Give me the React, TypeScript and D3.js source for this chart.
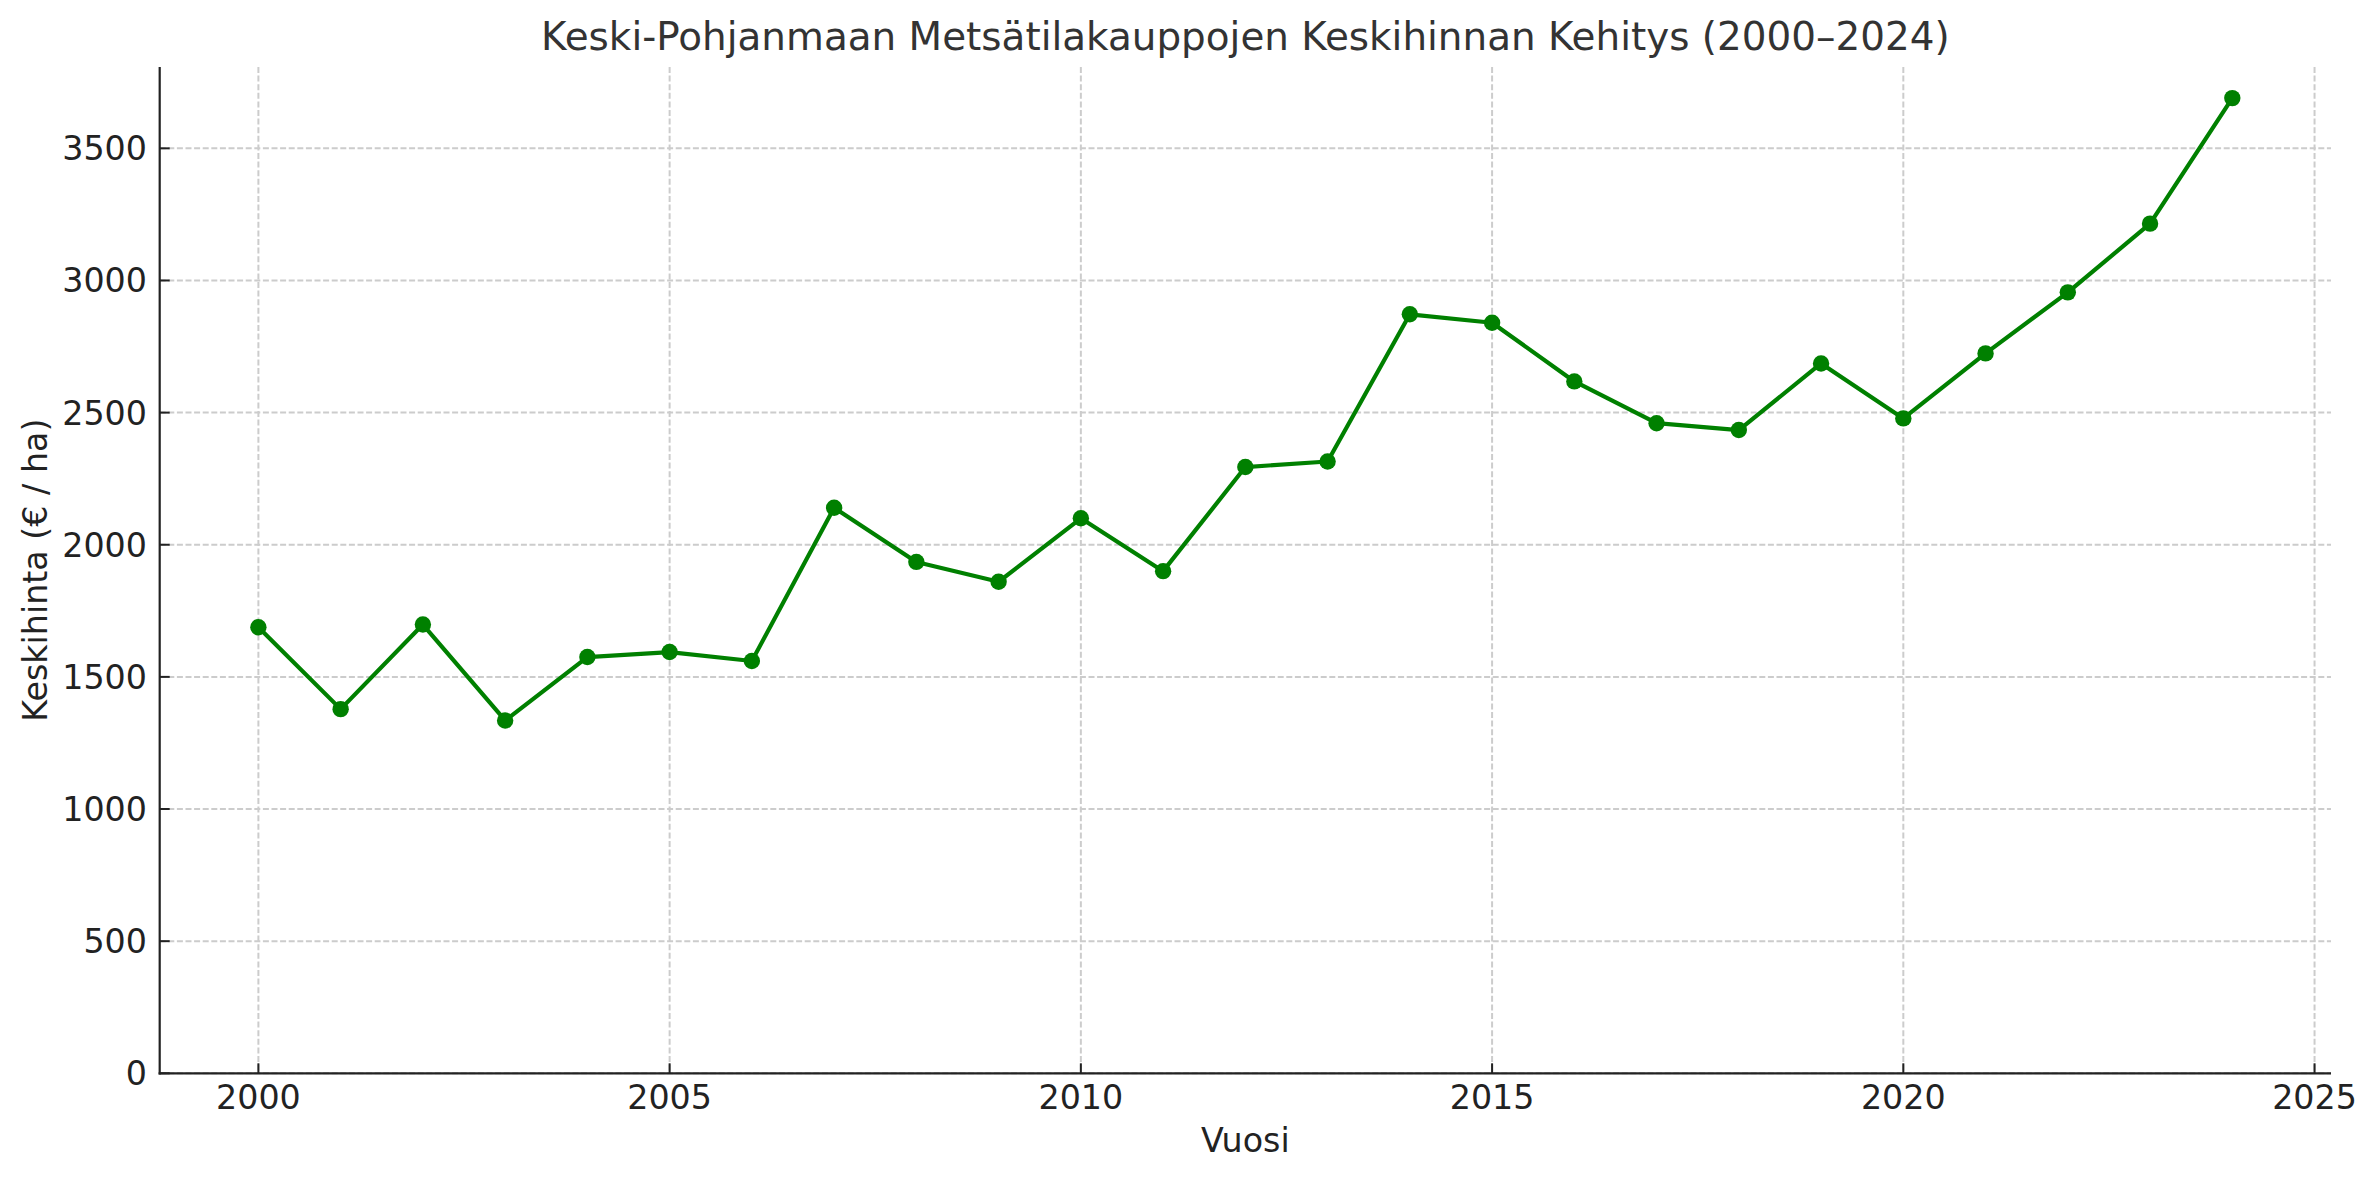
import React from "react";
import * as d3 from "d3";

const years: number[] = [2000, 2001, 2002, 2003, 2004, 2005, 2006, 2007, 2008, 2009, 2010, 2011, 2012, 2013, 2014, 2015, 2016, 2017, 2018, 2019, 2020, 2021, 2022, 2023, 2024];
const prices: number[] = [1688, 1378, 1698, 1335, 1575, 1594, 1560, 2140, 1935, 1860, 2100, 1900, 2294, 2315, 2872, 2840, 2618, 2460, 2434, 2686, 2478, 2724, 2955, 3215, 3690];
const xTicks: number[] = [2000, 2005, 2010, 2015, 2020, 2025];
const yTicks: number[] = [0, 500, 1000, 1500, 2000, 2500, 3000, 3500];

const title = "Keski-Pohjanmaan Metsätilakauppojen Keskihinnan Kehitys (2000–2024)";
const xLabel = "Vuosi";
const yLabel = "Keskihinta (€ / ha)";

const W = 2377;
const H = 1180;
const left = 159.7;
const right = 2331;
const top = 67;
const bottom = 1073.3;

export default function App() {
  const xMin = d3.min(years)!;
  const xMax = d3.max(years)!;
  const pad = (xMax - xMin) * 0.05;
  const x = d3.scaleLinear().domain([xMin - pad, xMax + pad]).range([left, right]);
  const yMinD = d3.min(prices)!;
  const yMaxD = d3.max(prices)!;
  const yTop = yMaxD + (yMaxD - yMinD) * 0.05;
  const y = d3.scaleLinear().domain([0, yTop]).range([bottom, top]);

  const line = d3
    .line<number>()
    .x((_, i) => x(years[i]))
    .y((d) => y(d));

  const font = "'DejaVu Sans', sans-serif";
  const tickColor = "#222";
  const fs = 33.3;

  return (
    <svg
      width={W}
      height={H}
      style={{ position: "absolute", left: 0, top: 0, background: "#fff" }}
      fontFamily={font}
    >
      <rect x={0} y={0} width={W} height={H} fill="#fff" />
      {xTicks.map((t) => (
        <line
          key={"gx" + t}
          x1={x(t)}
          x2={x(t)}
          y1={top}
          y2={bottom}
          stroke="#cccccc"
          strokeWidth={2}
          strokeDasharray="6,2.6"
        />
      ))}
      {yTicks.map((t) => (
        <line
          key={"gy" + t}
          x1={left}
          x2={right}
          y1={y(t)}
          y2={y(t)}
          stroke="#cccccc"
          strokeWidth={2}
          strokeDasharray="6,2.6"
        />
      ))}
      <path d={line(prices) || ""} fill="none" stroke="#008000" strokeWidth={4.2} strokeLinejoin="round" />
      {prices.map((v, i) => (
        <circle key={"p" + i} cx={x(years[i])} cy={y(v)} r={8.2} fill="#008000" />
      ))}
      <line x1={left} x2={left} y1={top} y2={bottom + 1.1} stroke="#222" strokeWidth={2.2} />
      <line x1={left - 1.1} x2={right} y1={bottom} y2={bottom} stroke="#222" strokeWidth={2.2} />
      {xTicks.map((t) => (
        <g key={"xt" + t}>
          <line x1={x(t)} x2={x(t)} y1={bottom} y2={bottom - 10} stroke="#222" strokeWidth={2} />
          <text x={x(t)} y={1108.5} textAnchor="middle" fontSize={fs} fill={tickColor}>
            {t}
          </text>
        </g>
      ))}
      {yTicks.map((t) => (
        <g key={"yt" + t}>
          <line x1={left} x2={left + 10} y1={y(t)} y2={y(t)} stroke="#222" strokeWidth={2} />
          <text x={147} y={y(t)} dy="0.36em" textAnchor="end" fontSize={fs} fill={tickColor}>
            {t}
          </text>
        </g>
      ))}
      <text x={(left + right) / 2} y={1152} textAnchor="middle" fontSize={fs} fill={tickColor}>
        {xLabel}
      </text>
      <text
        transform={`translate(46.5, ${(top + bottom) / 2}) rotate(-90)`}
        textAnchor="middle"
        fontSize={fs}
        fill={tickColor}
      >
        {yLabel}
      </text>
      <text x={(left + right) / 2} y={50} textAnchor="middle" fontSize={38.9} fill="#333">
        {title}
      </text>
    </svg>
  );
}
